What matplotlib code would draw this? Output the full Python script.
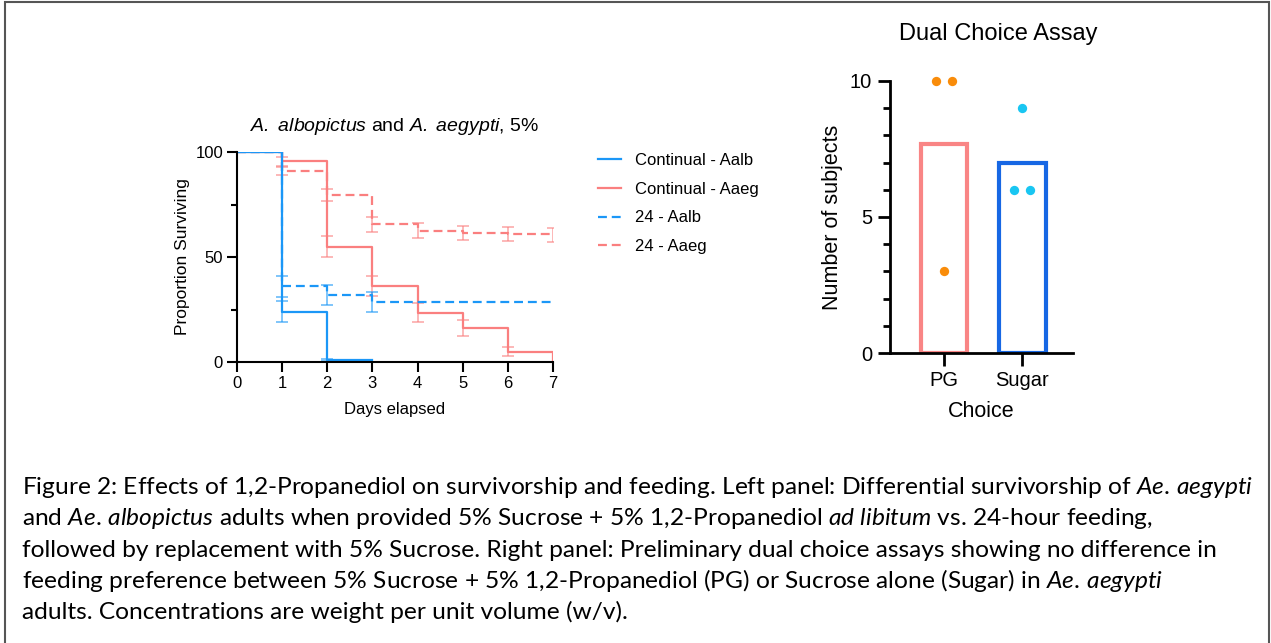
import matplotlib

matplotlib.use("Agg")
import matplotlib.pyplot as plt  # noqa: E402
from matplotlib.lines import Line2D  # noqa: E402
from matplotlib.patches import Rectangle  # noqa: E402

# ---- survival data (left panel) ----
days = [0, 1, 2, 3, 4, 5, 6, 7]
cont_aalb = [100, 24, 1, 1]  # stops at day 3
cont_aalb_err = [None, 5, 0.6, None]
cont_aaeg = [100, 95.5, 55, 36, 23.5, 16, 5, 0]
cont_aaeg_err = [None, 2.1, 5, 4.8, 4.4, 3.8, 2.1, None]
h24_aalb = [100, 36, 32, 28.5, 28.5, 28.5, 28.5, 28.5]
h24_aalb_err = [None, 5, 4.9, 4.6, None, None, None, None]
h24_aaeg = [100, 91, 79.5, 65.5, 62.5, 61.3, 61, 60.5]
h24_aaeg_err = [None, 2, 2.7, 3.5, 3.5, 3.3, 3.4, 3.5]
legend_labels = ["Continual - Aalb", "Continual - Aaeg", "24 - Aalb", "24 - Aaeg"]

# ---- dual choice data (right panel) ----
choices = ["PG", "Sugar"]
pg_counts = [10, 10, 3]
sugar_counts = [9, 6, 6]
jitter = {"PG": [-0.1, 0.1, 0.0], "Sugar": [0.0, -0.1, 0.1]}

BLUE = "#1b97f7"
RED = "#fa7f7f"
DASH = (4, 2.2)

plt.rcParams["font.family"] = "Liberation Sans"
plt.rcParams["mathtext.fontset"] = "custom"
plt.rcParams["mathtext.rm"] = "Lato"
plt.rcParams["mathtext.it"] = "Lato:italic"
plt.rcParams["mathtext.sf"] = "Liberation Sans:italic"

W, H = 1271, 643
fig = plt.figure(figsize=(W / 100, H / 100), dpi=100)


def box(x0, y0, x1, y1):
    return [x0 / W, 1 - y1 / H, (x1 - x0) / W, (y1 - y0) / H]


# ---------------- left panel ----------------
ax = fig.add_axes(box(237, 152, 553, 362))


def draw_series(y, err, color, dashed):
    x = days[: len(y)]
    line, = ax.step(x, y, where="post", color=color, lw=1.6)
    if dashed:
        line.set_dashes(DASH)
    ex = [d for d, e in zip(x, err) if e is not None]
    ey = [v for v, e in zip(y, err) if e is not None]
    ee = [e for e in err if e is not None]
    ax.errorbar(ex, ey, yerr=ee, fmt="none", ecolor=color, elinewidth=1.3,
                capsize=4, capthick=1.3, alpha=0.6)


draw_series(h24_aaeg, h24_aaeg_err, RED, True)
draw_series(cont_aaeg, cont_aaeg_err, RED, False)
draw_series(h24_aalb, h24_aalb_err, BLUE, True)
draw_series(cont_aalb, cont_aalb_err, BLUE, False)

ax.set_xlim(0, 7)
ax.set_ylim(0, 100)
ax.set_xticks(days)
ax.set_yticks([0, 50, 100])
ax.set_yticks([25, 75], minor=True)
for s in ["top", "right"]:
    ax.spines[s].set_visible(False)
for s in ["left", "bottom"]:
    ax.spines[s].set_linewidth(1.5)
ax.tick_params(which="major", length=7, width=1.5, labelsize=12, pad=3)
ax.tick_params(which="minor", length=4, width=1.5)
ax.set_xlabel("Days elapsed", fontsize=12)
ax.set_ylabel("Proportion Surviving", fontsize=12.5)
ax.xaxis.set_label_coords(0.5, -0.19)
ax.yaxis.set_label_coords(-0.149, 0.5)
ax.set_title(r"$\mathsf{A.}$ $\mathsf{albopictus}$ and $\mathsf{A.}$ $\mathsf{aegypti}$, 5%",
             fontsize=14, pad=15)

handles = [
    Line2D([], [], color=BLUE, lw=1.6),
    Line2D([], [], color=RED, lw=1.6),
    Line2D([], [], color=BLUE, lw=1.6, dashes=DASH),
    Line2D([], [], color=RED, lw=1.6, dashes=DASH),
]
ax.legend(handles, legend_labels, loc="upper left", frameon=False,
          bbox_to_anchor=(598 / W, 1 - 153 / H), bbox_transform=fig.transFigure,
          borderpad=0, borderaxespad=0, handlelength=1.4, handletextpad=0.8,
          labelspacing=0.82, fontsize=12)

# ---------------- right panel ----------------
bx = fig.add_axes(box(890, 81, 1073, 353))
groups = [pg_counts, sugar_counts]
bar_colors = ["#f98585", "#1767e4"]
dot_colors = ["#f98c0a", "#19c6f2"]
for i, (name, vals) in enumerate(zip(choices, groups)):
    mean = sum(vals) / len(vals)
    bx.bar(i, mean, width=0.6, facecolor="white", edgecolor=bar_colors[i],
           linewidth=3, zorder=2)
    bx.scatter([i + o for o in jitter[name]], vals, s=45, color=dot_colors[i],
               zorder=3, linewidths=0, clip_on=False)

bx.set_xlim(-0.69, 1.65)
bx.set_ylim(0, 10)
bx.set_xticks(range(len(choices)))
bx.set_xticklabels(choices)
bx.set_yticks([0, 5, 10])
bx.set_yticks(range(11), minor=True)
for s in ["top", "right"]:
    bx.spines[s].set_visible(False)
for s in ["left", "bottom"]:
    bx.spines[s].set_linewidth(2)
bx.tick_params(which="major", length=9, width=2, labelsize=14.5, pad=4)
bx.tick_params(which="minor", length=5, width=2)
bx.tick_params(axis="x", which="minor", length=0)
bx.set_ylabel("Number of subjects", fontsize=15.5)
bx.set_xlabel("Choice", fontsize=15.5)
bx.yaxis.set_label_coords(-0.257, 0.5)
bx.xaxis.set_label_coords(0.5, -0.176)
fig.text(998 / W, 1 - 34 / H, "Dual Choice Assay", fontsize=17, ha="center", va="center")

# ---------------- caption ----------------
caption = [
    r"Figure 2: Effects of 1,2-Propanediol on survivorship and feeding. Left panel: Differential survivorship of $\mathit{Ae.\,aegypti}$",
    r"and $\mathit{Ae.\,albopictus}$ adults when provided 5% Sucrose + 5% 1,2-Propanediol $\mathit{ad}$ $\mathit{libitum}$ vs. 24-hour feeding,",
    r"followed by replacement with 5% Sucrose. Right panel: Preliminary dual choice assays showing no difference in",
    r"feeding preference between 5% Sucrose + 5% 1,2-Propanediol (PG) or Sucrose alone (Sugar) in $\mathit{Ae.\,aegypti}$",
    r"adults. Concentrations are weight per unit volume (w/v).",
]
renderer = fig.canvas.get_renderer()
probe = fig.text(0, 0, caption[0], fontsize=15, family="Lato")
cap_size = 15 * 1232 / probe.get_window_extent(renderer).width
probe.remove()
for k, line in enumerate(caption):
    fig.text(22 / W, 1 - (494 + 31.3 * k) / H, line, fontsize=cap_size,
             family="Lato", ha="left", va="baseline")

fig.patches.append(Rectangle((5 / W, -0.02), 1264 / W, 1.02 - 2 / H,
                             transform=fig.transFigure, fill=False,
                             edgecolor="#555555", lw=1.5))

fig.savefig("out.png", dpi=100)
